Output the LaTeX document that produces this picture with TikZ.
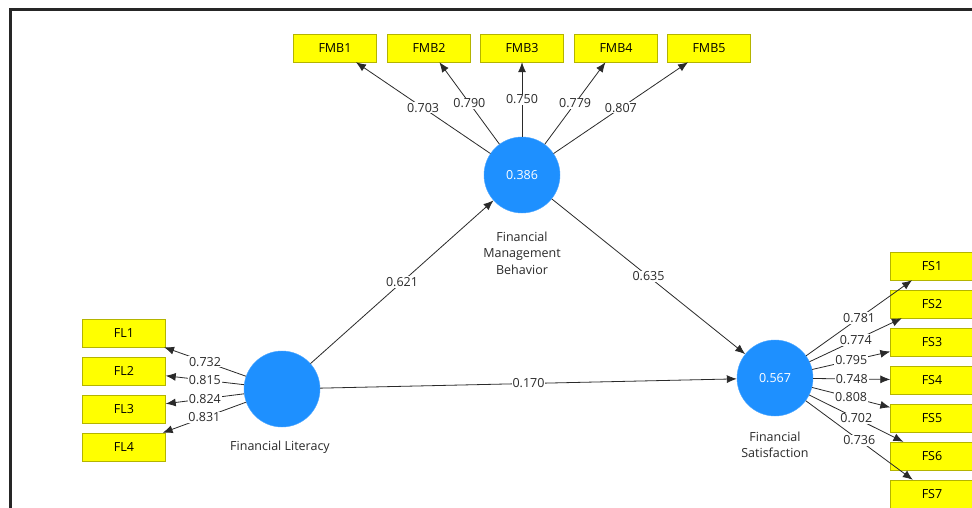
\documentclass[tikz,border=0pt]{standalone}
\usepackage{fontspec}
\setmainfont{Open Sans}
\usepackage{xcolor}
\usetikzlibrary{arrows.meta}
\definecolor{lvblue}{HTML}{1E90FF}
\definecolor{indyellow}{HTML}{FFFF00}
\definecolor{indedge}{HTML}{B4B400}
\definecolor{pathgray}{HTML}{2A2A2A}

\begin{document}
\begin{tikzpicture}[x=1pt, y=-1pt,
  latent/.style={circle, fill=lvblue, draw=lvblue!80, minimum size=76pt, inner sep=0pt, text=white, font=\fontsize{12.5}{14}\selectfont},
  indicator/.style={draw=indedge, fill=indyellow, minimum width=83pt, minimum height=28pt, inner sep=0pt, font=\fontsize{12.5}{14}\selectfont},
  edge/.style={-{Latex[length=10pt,width=8pt]}, draw=pathgray, line width=0.8pt},
  coef/.style={fill=white, inner sep=1pt, text=pathgray, font=\fontsize{12.5}{14}\selectfont},
  lvname/.style={align=center, text=pathgray, font=\fontsize{12.5}{16.5}\selectfont}
]
  \clip (0,0) rectangle (972,508);
  \fill[white] (0,0) rectangle (972,508);
  \draw[line width=3pt, black!85] (10,508) -- (10,10) -- (972,10);

  % latent variables
  \node[latent] (FMB) at (522,175) {0.386};
  \node[latent] (FL) at (282,389) {};
  \node[latent] (FS) at (775,378) {0.567};

  \node[lvname] (FMBname) at (522,253) {Financial\\ Management\\ Behavior};
  \node[lvname] (FLname) at (280,447) {Financial Literacy};
  \node[lvname] (FSname) at (775,445) {Financial\\ Satisfaction};

  % indicators
  \node[indicator] (fmb1) at (335,48) {FMB1};
  \node[indicator] (fmb2) at (429,48) {FMB2};
  \node[indicator] (fmb3) at (522,48) {FMB3};
  \node[indicator] (fmb4) at (616,48) {FMB4};
  \node[indicator] (fmb5) at (709,48) {FMB5};

  \node[indicator] (fl1) at (124,333) {FL1};
  \node[indicator] (fl2) at (124,371) {FL2};
  \node[indicator] (fl3) at (124,409) {FL3};
  \node[indicator] (fl4) at (124,447) {FL4};

  \node[indicator] (fs1) at (932,266) {FS1};
  \node[indicator] (fs2) at (932,304) {FS2};
  \node[indicator] (fs3) at (932,342) {FS3};
  \node[indicator] (fs4) at (932,380) {FS4};
  \node[indicator] (fs5) at (932,418) {FS5};
  \node[indicator] (fs6) at (932,456) {FS6};
  \node[indicator] (fs7) at (932,494) {FS7};

  % structural paths
  \draw[edge] (FL) -- node[coef] {0.621} (FMB);
  \draw[edge] (FMB) -- node[coef] {0.635} (FS);
  \draw[edge] (FL) -- node[coef] {0.170} (FS);

  % outer loadings
  \draw[edge] (FMB) -- node[coef] {0.703} (fmb1);
  \draw[edge] (FMB) -- node[coef] {0.790} (fmb2);
  \draw[edge] (FMB) -- node[coef] {0.750} (fmb3);
  \draw[edge] (FMB) -- node[coef] {0.779} (fmb4);
  \draw[edge] (FMB) -- node[coef] {0.807} (fmb5);

  \draw[edge] (FL) -- node[coef] {0.732} (fl1);
  \draw[edge] (FL) -- node[coef] {0.815} (fl2);
  \draw[edge] (FL) -- node[coef] {0.824} (fl3);
  \draw[edge] (FL) -- node[coef] {0.831} (fl4);

  \draw[edge] (FS) -- node[coef] {0.781} (fs1);
  \draw[edge] (FS) -- node[coef] {0.774} (fs2);
  \draw[edge] (FS) -- node[coef] {0.795} (fs3);
  \draw[edge] (FS) -- node[coef] {0.748} (fs4);
  \draw[edge] (FS) -- node[coef] {0.808} (fs5);
  \draw[edge] (FS) -- node[coef] {0.702} (fs6);
  \draw[edge] (FS) -- node[coef] {0.736} (fs7);
\end{tikzpicture}
\end{document}
